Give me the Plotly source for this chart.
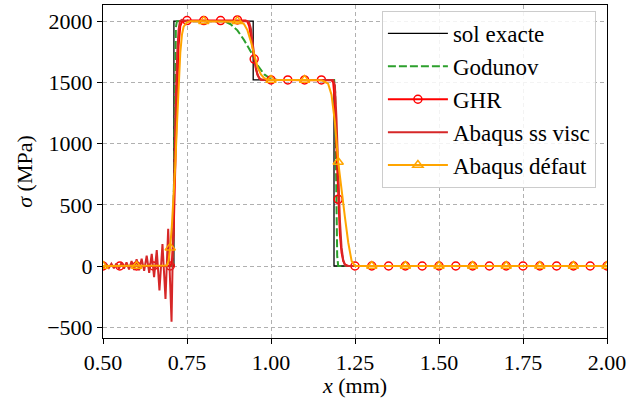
import numpy as np
import plotly.graph_objects as go

# ---------------- data ----------------
exact_x = [0.50, 0.711, 0.711, 0.947, 0.947, 1.1875, 1.1875, 2.00]
exact_y = [0, 0, 2000, 2000, 1520, 1520, 0, 0]

god_x = [0.50, 0.705, 0.708, 0.711, 0.714, 0.717, 0.720, 0.860, 0.880, 0.900, 0.920, 0.940,
         0.960, 0.980, 1.000, 1.020, 1.188, 1.191, 1.194, 1.197, 1.200, 2.00]
god_y = [0, 0, 20, 600, 1500, 1950, 2000, 2000, 1975, 1925, 1845, 1750,
         1640, 1565, 1528, 1520, 1520, 1420, 700, 80, 0, 0]

ghr_x = [0.50, 0.55, 0.60, 0.65, 0.70, 0.705, 0.71, 0.715, 0.72, 0.725, 0.73, 0.735, 0.74,
         0.75, 0.80, 0.85, 0.90, 0.925, 0.93, 0.935, 0.94, 0.945, 0.95, 0.955, 0.96, 0.965,
         0.97, 0.975, 0.98, 1.00, 1.05, 1.10, 1.15, 1.18, 1.185, 1.19, 1.195, 1.20, 1.205,
         1.21, 1.215, 1.22, 1.23, 1.25, 1.30, 1.35, 1.40, 1.45, 1.50, 1.55, 1.60, 1.65,
         1.70, 1.75, 1.80, 1.85, 1.90, 1.95, 2.00]
ghr_y = [0, 0, 0, 0, 0, 30, 250, 800, 1400, 1800, 1960, 1995, 2000,
         2005, 2005, 2005, 2010, 2005, 1995, 1960, 1880, 1790, 1690, 1610, 1560, 1535,
         1525, 1520, 1520, 1520, 1520, 1520, 1520, 1518, 1500, 1350, 950, 545, 260,
         110, 40, 12, 0, 0, 0, 0, 0, 0, 0, 0, 0, 0,
         0, 0, 0, 0, 0, 0, 0]

visc_x = [0.500, 0.5025, 0.510, 0.5175, 0.525, 0.5325, 0.540, 0.5475, 0.555, 0.5625, 0.570,
          0.5775, 0.585, 0.5925, 0.600, 0.6075, 0.615, 0.6225, 0.630, 0.6375, 0.645, 0.652,
          0.660, 0.668, 0.677, 0.686, 0.694, 0.704, 0.709, 0.713, 0.717, 0.721, 0.725, 0.729,
          0.735, 0.750, 0.930, 0.935, 0.940, 0.945, 0.950, 0.955, 0.960, 0.965, 0.970, 0.980,
          1.185, 1.190, 1.195, 1.200, 1.205, 1.210, 1.215, 1.220, 1.225, 2.000]
visc_y = [0, -10, 15, -15, 18, -18, 20, -20, 25, -22, 30,
          -28, 40, -32, 55, -35, 60, -40, 85, -55, 100, -90,
          130, -200, 180, -270, 305, -455, 300, 900, 1400, 1750, 1930, 2000,
          2010, 2000, 2000, 1990, 1940, 1830, 1710, 1620, 1565, 1535, 1522, 1520,
          1520, 1480, 1200, 750, 380, 150, 50, 10, 0, 0]

dft_x = [0.50, 0.60, 0.68, 0.69, 0.695, 0.70, 0.705, 0.71, 0.715, 0.72, 0.725, 0.73, 0.735,
         0.74, 0.75, 0.76, 0.80, 0.90, 0.91, 0.92, 0.93, 0.94, 0.95, 0.96, 0.97, 0.98, 0.99,
         1.00, 1.10, 1.15, 1.16, 1.17, 1.18, 1.19, 1.20, 1.21, 1.22, 1.23, 1.24, 1.25, 1.30,
         1.40, 1.50, 1.60, 1.70, 1.80, 1.90, 2.00]
dft_y = [0, 0, 0, 5, 40, 150, 330, 560, 820, 1150, 1480, 1740, 1890,
         1955, 1990, 2000, 2000, 2000, 1995, 1975, 1925, 1835, 1720, 1625, 1565, 1535, 1522,
         1520, 1520, 1518, 1505, 1490, 1400, 1180, 850, 610, 400, 190, 40, 0, 0,
         0, 0, 0, 0, 0, 0, 0]

x_ticks = [0.50, 0.75, 1.00, 1.25, 1.50, 1.75, 2.00]
y_ticks = [-500, 0, 500, 1000, 1500, 2000]

# ---------------- figure ----------------
FONT = "'Liberation Serif', 'Times New Roman', 'DejaVu Serif', serif"
FS = 23
FS_AX = 22
ghr_x_a = np.array(ghr_x); ghr_y_a = np.array(ghr_y)
m_ghr = np.isclose(ghr_x_a * 20, np.round(ghr_x_a * 20))
dft_x_a = np.array(dft_x); dft_y_a = np.array(dft_y)
m_dft = np.isclose(dft_x_a * 10, np.round(dft_x_a * 10))

RED = "#ff0000"
TABRED = "#d62728"
ORANGE = "#ffa500"
GREEN = "#2ca02c"

fig = go.Figure()
fig.add_trace(go.Scatter(x=exact_x, y=exact_y, mode="lines", name="sol exacte",
                         line=dict(color="black", width=1.3), legendrank=1))
fig.add_trace(go.Scatter(x=god_x, y=god_y, mode="lines", name="Godunov",
                         line=dict(color=GREEN, width=2, dash="8px,3px"), legendrank=2))
fig.add_trace(go.Scatter(x=ghr_x, y=ghr_y, mode="lines", showlegend=False,
                         line=dict(color=RED, width=2)))
fig.add_trace(go.Scatter(x=ghr_x_a[m_ghr], y=ghr_y_a[m_ghr], mode="markers", showlegend=False,
                         marker=dict(symbol="circle-open", size=8, color=RED, line=dict(width=1.5))))
fig.add_trace(go.Scatter(x=[None], y=[None], mode="lines+markers", name="GHR", legendrank=3,
                         line=dict(color=RED, width=2),
                         marker=dict(symbol="circle-open", size=8, color=RED, line=dict(width=1.5))))
fig.add_trace(go.Scatter(x=visc_x, y=visc_y, mode="lines", name="Abaqus ss visc",
                         line=dict(color=TABRED, width=2), legendrank=4))
fig.add_trace(go.Scatter(x=dft_x, y=dft_y, mode="lines", showlegend=False,
                         line=dict(color=ORANGE, width=2)))
fig.add_trace(go.Scatter(x=dft_x_a[m_dft], y=dft_y_a[m_dft], mode="markers", showlegend=False,
                         marker=dict(symbol="triangle-up-open", size=9, color=ORANGE, line=dict(width=1.5))))
fig.add_trace(go.Scatter(x=[None], y=[None], mode="lines+markers", name="Abaqus défaut", legendrank=5,
                         line=dict(color=ORANGE, width=2),
                         marker=dict(symbol="triangle-up-open", size=9, color=ORANGE, line=dict(width=1.5))))

axis_common = dict(showline=True, linecolor="black", linewidth=1, mirror=True,
                   ticks="outside", ticklen=5, tickwidth=1, tickcolor="black",
                   showgrid=True, gridcolor="#b0b0b0", gridwidth=1, griddash="4px,3px",
                   zeroline=False, tickfont=dict(family=FONT, size=FS_AX, color="black"))

fig.update_xaxes(range=[0.5, 2.0], tickvals=x_ticks, ticktext=[f"{v:.2f}" for v in x_ticks],
                 title=dict(text="<i>x</i> (mm)", font=dict(family=FONT, size=FS_AX, color="black"), standoff=4),
                 automargin=False, **axis_common)
fig.update_yaxes(range=[-588, 2132], tickvals=y_ticks, ticktext=[("\u2212" + str(-v)) if v < 0 else str(v) for v in y_ticks],
                 title=dict(text="<i>σ</i> (MPa)", font=dict(family=FONT, size=FS_AX, color="black"), standoff=8),
                 automargin=False, **axis_common)

fig.update_layout(
    width=628, height=398,
    margin=dict(l=103, r=21, t=5, b=60, autoexpand=False),
    plot_bgcolor="white", paper_bgcolor="white",
    font=dict(family=FONT, size=FS, color="black"),
    legend=dict(x=0.978, y=0.982, xanchor="right", yanchor="top",
                bgcolor="rgba(255,255,255,0.85)", bordercolor="#cccccc", borderwidth=1,
                font=dict(family=FONT, size=FS, color="black"),
                itemwidth=60, tracegroupgap=0),
    showlegend=True,
)

fig.write_html("out.html", config={"displayModeBar": False},
               post_script="document.body.style.margin='0';document.body.style.padding='0';")
